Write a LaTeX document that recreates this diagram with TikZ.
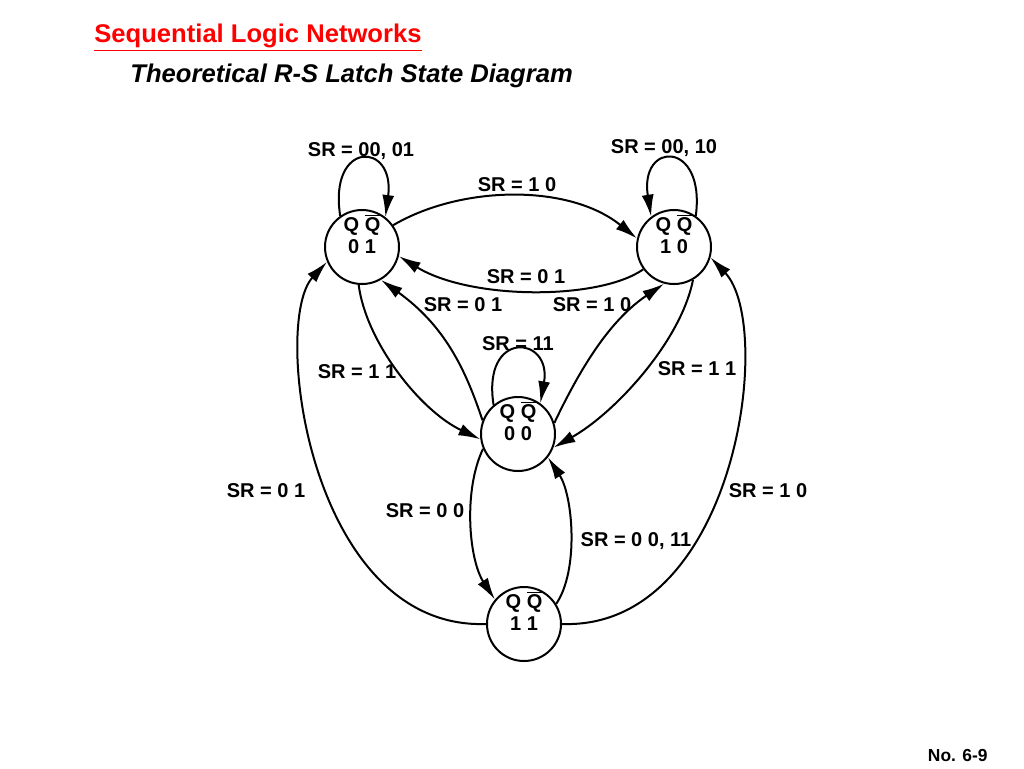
\documentclass[tikz,border=0pt]{standalone}
\usepackage{fontspec}
\setmainfont{Liberation Sans}
\usetikzlibrary{arrows.meta}
\newcommand{\qq}[1]{Q $\overline{\mbox{Q}}$\\#1}
\begin{document}
\begin{tikzpicture}[x=0.5pt,y=-0.5pt,
		state/.style={circle,draw,line width=1pt,minimum size=37pt,inner sep=0pt},
		qlab/.style={align=center,font=\fontsize{10}{11}\selectfont\bfseries,yshift=6.5pt},
		lab/.style={font=\fontsize{10}{12}\selectfont\bfseries},
		tr/.style={line width=1pt,-{Latex[length=11pt,width=6pt]}}]
		\useasboundingbox(0,0)rectangle(1024,768);
		\node[anchor=base west,inner sep=0pt,text=red,font=\fontsize{12.8}{15}\selectfont\bfseries](ttl)at(94,42){\underline{Sequential Logic Networks}};
		\node[anchor=base west,inner sep=0pt,font=\fontsize{12.8}{15}\selectfont\bfseries\itshape](sub)at(130,82){Theoretical R-S Latch State Diagram};
		\node[anchor=base east,inner sep=0pt,font=\fontsize{8.7}{10}\selectfont\bfseries](num)at(988,761){No. 6-9};
		\node[state,label={[qlab]center:\qq{0 1}}](s01)at(362,247){};
		\node[state,label={[qlab]center:\qq{1 0}}](s10)at(674,247){};
		\node[state,label={[qlab]center:\qq{0 0}}](s00)at(518,434){};
		\node[state,label={[qlab]center:\qq{1 1}}](s11)at(524,624){};
		\draw[tr](s01.125)..controls+(-12,-76)and+(10,-76)..(s01.52);
		\draw[tr](s10.55)..controls+(10,-76)and+(-12,-76)..(s10.127);
		\draw[tr](s00.130)..controls+(-12,-76)and+(12,-68)..(s00.54);
		\draw[tr](s01.35)..controls+(68,-40)and+(-68,-55)..(s10.167);
		\draw[tr](s10.216)..controls+(-44,31)and+(72,44)..(s01.346);
		\draw[tr](s00.159)..controls+(-17,-51)and+(64,46)..(s01.300);
		\draw[tr](s00.17)..controls+(29,-61)and+(-52,35)..(s10.255);
		\draw[tr](s01.265)..controls+(7,56)and+(-61,-29)..(s00.188);
		\draw[tr](s10.300)..controls+(-12,61)and+(62,-35)..(s00.339);
		\draw[tr](s00.203)..controls+(-20,42)and+(-26,-40)..(s11.140);
		\draw[tr](s11.32)..controls+(23,-34)and+(25,38)..(s00.322);
		\draw[tr](s11.180)..controls+(-177,6)and+(-56,60)..(s01.203);
		\draw[tr](s11.0)..controls+(174,6)and+(65,68)..(s10.344);
		\node[lab](l1)at(361,151){SR = 00, 01};
		\node[lab](l2)at(664,148){SR = 00, 10};
		\node[lab](l3)at(517,185){SR = 1 0};
		\node[lab](l4)at(526,277){SR = 0 1};
		\node[lab](l5)at(463,305){SR = 0 1};
		\node[lab](l6)at(592,305){SR = 1 0};
		\node[lab](l7)at(518,344){SR = 11};
		\node[lab](l8)at(357,372){SR = 1 1};
		\node[lab](l9)at(697,369){SR = 1 1};
		\node[lab](l10)at(266,491){SR = 0 1};
		\node[lab](l11)at(768,491){SR = 1 0};
		\node[lab](l12)at(425,511){SR = 0 0};
		\node[lab](l13)at(636,541){SR = 0 0, 11};
	\end{tikzpicture}
\end{document}
